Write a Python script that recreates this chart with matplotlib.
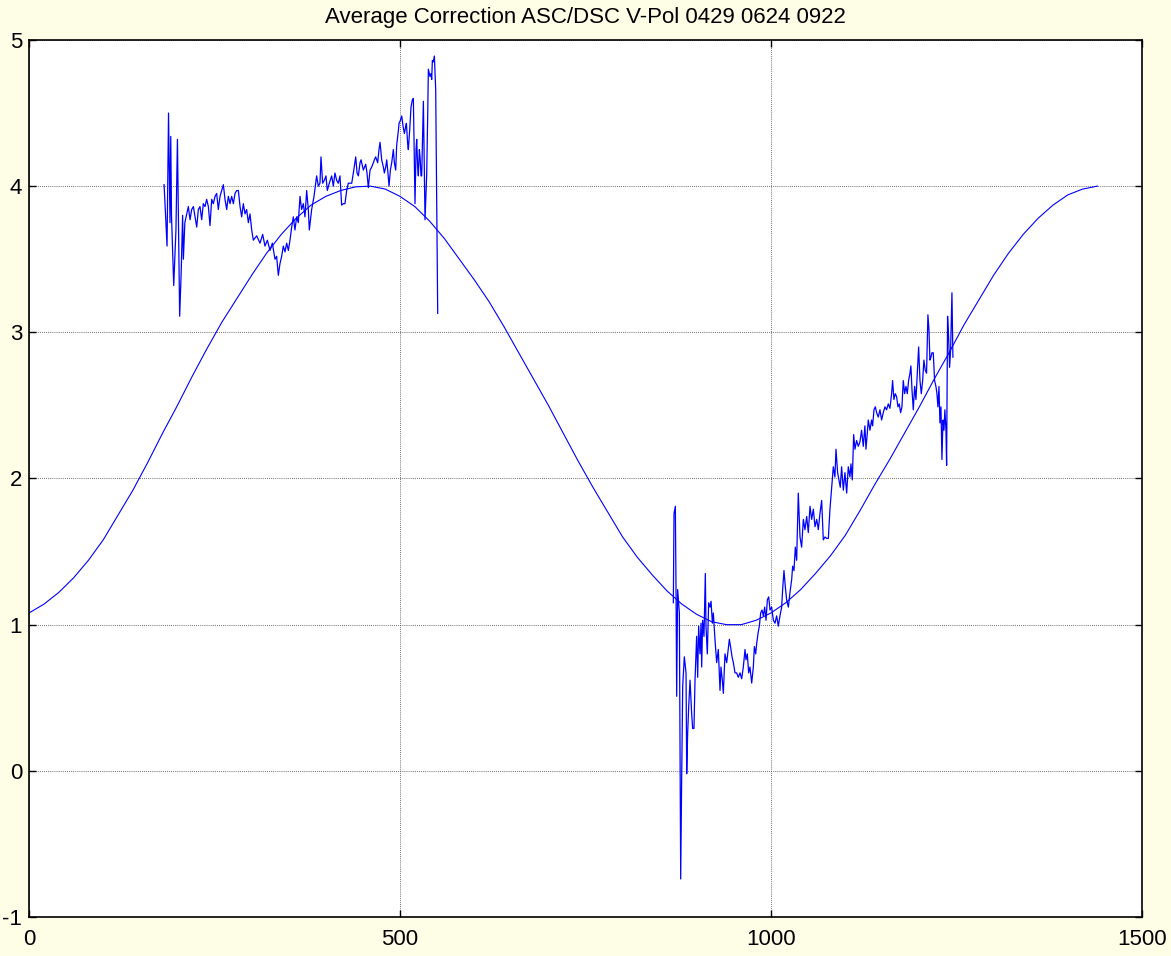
import matplotlib
matplotlib.use("Agg")
import matplotlib.pyplot as plt

# smooth model curve
model_x = [0, 20, 40, 60, 80, 100, 120, 140, 160, 180, 200, 220, 240, 260, 280, 300, 320, 340,
           360, 380, 400, 420, 440, 460, 480, 500, 520, 540, 560, 580, 600, 620, 640, 660, 680,
           700, 720, 740, 760, 780, 800, 820, 840, 860, 880, 900, 920, 940, 960, 980, 1000,
           1020, 1040, 1060, 1080, 1100, 1120, 1140, 1160, 1180, 1200, 1220, 1240, 1260, 1280,
           1300, 1320, 1340, 1360, 1380, 1400, 1420, 1440]
model_y = [1.08, 1.14, 1.22, 1.32, 1.44, 1.58, 1.75, 1.92, 2.11, 2.31, 2.50, 2.70, 2.89, 3.07,
           3.23, 3.39, 3.54, 3.67, 3.78, 3.87, 3.93, 3.97, 3.995, 4.00, 3.98, 3.93, 3.86, 3.76,
           3.64, 3.50, 3.36, 3.21, 3.04, 2.86, 2.68, 2.50, 2.31, 2.12, 1.94, 1.77, 1.60, 1.46,
           1.34, 1.23, 1.14, 1.07, 1.02, 1.00, 1.00, 1.03, 1.08, 1.15, 1.24, 1.35, 1.47, 1.61,
           1.78, 1.96, 2.13, 2.31, 2.49, 2.68, 2.86, 3.05, 3.22, 3.39, 3.54, 3.67, 3.78, 3.87,
           3.94, 3.98, 4.00]

# measured correction, first pass
asc_x = [182, 186, 188, 190, 191, 192, 195, 198, 200, 203, 205, 207, 208, 210,
         212.5, 214.7, 217, 219.2, 221.5, 223.7, 226, 228.2, 230.4, 232.7, 234.9, 237.2,
         239.4, 241.7, 243.9, 246.2, 248.4, 250.7, 252.9, 255.1, 257.4, 259.6, 261.9, 264.1,
         266.4, 268.6, 270.9, 273.1, 275.4, 277.6, 279.9, 282.1, 284.4, 286.6, 288.8, 291.1,
         293.3, 295.6, 297.8, 300.1, 302.3,
         306.8, 311.3, 314.9, 318, 321.2, 324.8, 327.9, 331.5, 333.7, 336, 338.2, 340.5,
         342.7, 345, 347.2, 349.5, 351.7, 354, 356.2, 358.4, 360.7, 362.9, 365.2, 367.4,
         369.7, 371.9, 374.2, 376.4, 377.8, 380.9, 384.1, 387.6, 389.9, 392.1, 393.5, 395.7,
         398, 400.2, 402, 404.7, 407.9, 410.1, 412.3, 414.6, 416.8, 419.1, 421.3, 423.6,
         425.8, 428.1, 430.3,
         434.9, 437.1, 440.3, 442.1, 443.9, 446.1, 447.5, 450.6, 453.8, 455.5, 457.3, 459.6,
         461.8, 464.1, 465.4, 467.2, 469.9, 471.7, 473.1, 475.3, 477.6, 478.9, 480.7, 482.1,
         483.4, 485.2, 487, 488.8, 491, 492.4, 494.2, 495.5, 497.8, 498.7, 500.5, 502.3,
         504.1, 505.9, 507.7, 508.6, 510.3, 511.2, 513, 514.8, 516.6, 518, 520.2, 521.6,
         522.5, 523.8, 524.7, 526.1, 527, 528.3, 529.2, 531.5, 533.7, 535.1, 535.9, 537.3,
         538.2, 540.4, 541.8, 542.7, 543.6, 544.9, 546.3, 548.1, 550.8]
asc_y = [4.01, 3.59, 4.50, 3.75, 4.34, 3.80, 3.32, 3.70, 4.32, 3.11, 3.40, 3.80, 3.50, 3.75,
         3.81, 3.86, 3.77, 3.84, 3.86, 3.79, 3.72, 3.84, 3.86, 3.77, 3.88, 3.86,
         3.91, 3.86, 3.73, 3.91, 3.88, 3.93, 3.95, 3.84, 3.93, 3.97, 4.01, 3.91,
         3.84, 3.93, 3.88, 3.93, 3.88, 3.95, 3.97, 3.97, 3.86, 3.79, 3.88, 3.81,
         3.84, 3.75, 3.81, 3.70, 3.63,
         3.66, 3.61, 3.67, 3.59, 3.63, 3.56, 3.61, 3.50, 3.52, 3.39, 3.47, 3.52,
         3.59, 3.55, 3.61, 3.56, 3.63, 3.72, 3.79, 3.70, 3.79, 3.75, 3.93, 3.84,
         3.88, 3.79, 3.97, 3.84, 3.70, 3.84, 3.93, 4.07, 4.00, 4.02, 4.20, 4.02,
         4.04, 4.07, 3.97, 4.02, 4.07, 4.00, 4.09, 4.04, 4.02, 4.07, 3.87, 3.88,
         3.88, 3.97, 4.02,
         4.02, 4.09, 4.20, 4.09, 4.07, 4.16, 4.18, 4.11, 4.15, 4.09, 3.99, 4.11,
         4.13, 4.16, 4.18, 4.20, 4.16, 4.25, 4.30, 4.18, 4.13, 4.09, 4.13, 4.18,
         4.11, 4.00, 4.11, 4.16, 4.25, 4.16, 4.11, 4.28, 4.38, 4.43, 4.45, 4.48,
         4.41, 4.36, 4.41, 4.43, 4.29, 4.25, 4.38, 4.54, 4.59, 4.60, 3.88, 4.25,
         4.32, 4.13, 4.07, 4.25, 4.20, 4.07, 4.07, 4.58, 3.77, 3.97, 4.07, 4.48,
         4.80, 4.75, 4.77, 4.73, 4.86, 4.85, 4.89, 4.66, 3.13]

# measured correction, second pass
dsc_x = [868.4, 869.3, 871.1, 872.0, 872.9, 874.2, 876.5, 878.3, 879.6, 881.0, 883.2, 885.5,
         886.4, 887.7, 889.1, 890.9, 893.1, 894.4, 896.2, 897.6, 899.8, 901.2, 902.5, 904.3,
         905.7, 906.6, 907.9, 909.7, 911.5, 912.4, 914.2, 916.0, 917.8, 919.2, 921.0, 922.3,
         924.5, 926.8, 929.0, 931.3, 932.6, 934.4, 935.8, 938.0, 940.3, 941.6, 943.9, 946.1,
         947.5, 949.3, 951.5, 953.7, 956.0, 958.2, 960.5, 962.7, 965.0, 966.3, 968.1, 969.9,
         971.7, 974.0, 976.2, 977.6, 979.4, 980.7, 982.5, 984.3, 986.1, 987.9, 989.7, 991.5,
         993.3, 995.1, 996.9, 998.7, 1000.9, 1003.2, 1005.4, 1007.6, 1009.9, 1012.1, 1014.4,
         1015.7, 1017.5, 1019.3, 1021.1, 1023.4, 1025.6, 1027.9, 1029.2, 1031.0, 1032.8,
         1034.6, 1036.8, 1039.1, 1041.3, 1043.6, 1045.8, 1048.1, 1050.3, 1052.6, 1054.8,
         1057.1, 1059.3, 1061.6, 1063.8, 1066.0, 1068.3, 1070.5, 1072.8, 1075.0, 1077.3,
         1079.5, 1081.8,
         1084, 1086.2, 1087.6, 1089.8, 1091.6, 1093.4, 1095.2, 1097.5, 1099.7, 1102, 1104.2,
         1106.4, 1107.8, 1109.6, 1111.4, 1113.2, 1115.4, 1117.7, 1119.9,
         1122.1, 1124.4, 1126.6, 1128, 1129.8, 1131.1, 1133.4, 1135.6, 1137, 1138.8, 1140.6,
         1142.4, 1144.6, 1146.9, 1149.1, 1151.3, 1153.6, 1155.8, 1158.1, 1160.3, 1162.6,
         1163.9, 1165.7, 1167.5, 1169.3, 1171.1, 1172.9, 1174.7, 1176.5, 1178.3, 1180.1,
         1181.9, 1183.7, 1185.5, 1187.3, 1188.6, 1190, 1191.8, 1193.6, 1195.4, 1197.2, 1199,
         1200.8, 1202.6, 1204.4, 1206.1, 1207.9, 1209.7, 1211.5, 1212.9, 1214.2, 1215.6,
         1216.9, 1218.7, 1220.5, 1222.3, 1223.7, 1225, 1226.4, 1227.7, 1229.1, 1230.4,
         1231.8, 1233.1, 1234.4, 1235.8, 1236.7, 1238, 1239.4, 1240.7, 1242.1, 1243.9, 1245.2]
dsc_y = [1.15, 1.76, 1.81, 1.24, 0.51, 1.24, 1.08, -0.74, -0.06, 0.58, 0.78, 0.67,
         -0.02, 0.26, 0.44, 0.62, 0.39, 0.29, 0.29, 0.62, 0.92, 0.64, 0.99, 0.80,
         1.01, 0.71, 1.03, 0.92, 1.35, 0.99, 0.80, 1.15, 1.12, 1.16, 1.01, 1.08,
         0.90, 0.74, 0.83, 0.55, 0.71, 0.62, 0.53, 0.80, 0.74, 0.80, 0.90, 0.83,
         0.78, 0.74, 0.67, 0.67, 0.64, 0.67, 0.63, 0.71, 0.83, 0.76, 0.80, 0.67,
         0.71, 0.60, 0.71, 0.85, 0.80, 0.87, 0.94, 0.99, 1.08, 1.10, 1.06, 1.12,
         1.03, 1.17, 1.19, 1.10, 1.12, 1.03, 1.01, 1.06, 0.99, 1.06, 1.12,
         1.24, 1.37, 1.26, 1.17, 1.12, 1.22, 1.31, 1.40, 1.37, 1.53,
         1.44, 1.90, 1.60, 1.53, 1.72, 1.65, 1.74, 1.63, 1.81, 1.72,
         1.79, 1.67, 1.72, 1.65, 1.76, 1.85, 1.58, 1.60, 1.59, 1.59,
         1.79, 1.94,
         2.08, 2.01, 2.20, 2.04, 1.99, 1.94, 2.08, 1.92, 2.04, 1.90, 2.08,
         2.01, 2.10, 1.99, 2.30, 2.20, 2.26, 2.22, 2.25,
         2.33, 2.22, 2.36, 2.20, 2.31, 2.40, 2.33, 2.40, 2.36, 2.47, 2.49,
         2.45, 2.42, 2.47, 2.40, 2.45, 2.49, 2.47, 2.51, 2.48, 2.58,
         2.67, 2.54, 2.58, 2.56, 2.49, 2.51, 2.45, 2.49, 2.67, 2.58,
         2.63, 2.58, 2.67, 2.72, 2.77, 2.61, 2.47, 2.63, 2.54, 2.72, 2.90,
         2.67, 2.58, 2.67, 2.81, 2.74, 2.72, 3.12, 3.02, 2.81, 2.83,
         2.86, 2.86, 2.67, 2.63, 2.58, 2.49, 2.63, 2.38, 2.49, 2.13,
         2.40, 2.33, 2.47, 2.33, 2.09, 3.11, 2.97, 2.76, 2.88, 3.27, 2.83]

x_ticks = [0, 500, 1000, 1500]
y_ticks = [-1, 0, 1, 2, 3, 4, 5]

plt.rcParams["font.family"] = ["Liberation Sans", "DejaVu Sans"]
plt.rcParams["axes.unicode_minus"] = False

fig = plt.figure(figsize=(11.71, 9.56), dpi=100, facecolor="#FEFEE6")
ax = fig.add_axes([0.0248, 0.0408, 0.9504, 0.9174])
ax.set_facecolor("white")

ax.plot(model_x, model_y, color="#0000FF", linewidth=0.8)
ax.plot(asc_x, asc_y, color="#0000FF", linewidth=0.9)
ax.plot(dsc_x, dsc_y, color="#0000FF", linewidth=0.9)

ax.set_xlim(0, 1500)
ax.set_ylim(-1, 5)
ax.set_xticks(x_ticks)
ax.set_yticks(y_ticks)
ax.grid(True, color="#404040", linestyle=(0, (1, 1.5)), linewidth=0.6)
ax.tick_params(direction="in", length=5, width=1, top=True, right=True,
               labelsize=16, colors="black")
ax.tick_params(axis="x", pad=9)
ax.tick_params(axis="y", pad=5)
for s in ax.spines.values():
    s.set_linewidth(1.2)

ax.set_title("Average Correction ASC/DSC V-Pol 0429 0624 0922", fontsize=16, pad=12)

fig.savefig("out.png", dpi=100, facecolor=fig.get_facecolor())
